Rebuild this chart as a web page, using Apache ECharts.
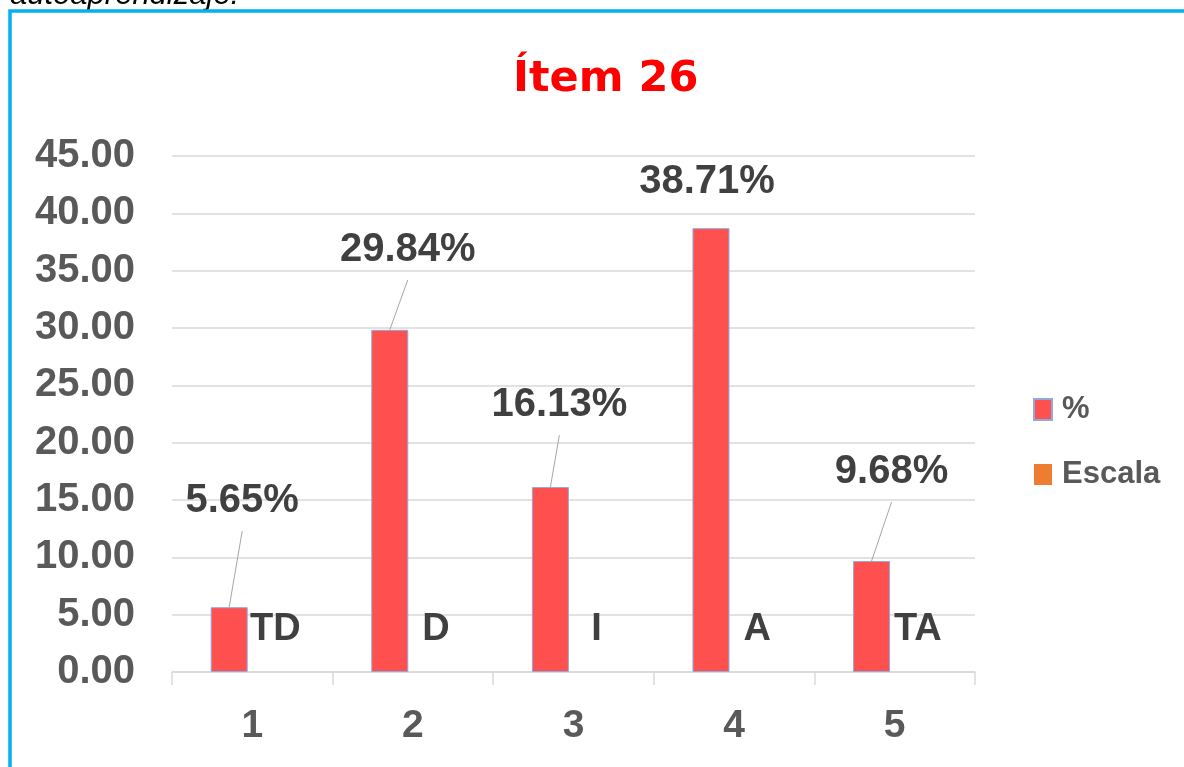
<!DOCTYPE html>
<html>
<head>
<meta charset="utf-8">
<script src="https://cdn.jsdelivr.net/npm/echarts@6/dist/echarts.min.js"></script>
<style>
  html, body { margin: 0; padding: 0; background: #fff; }
  #chart { width: 1184px; height: 767px; }
</style>
</head>
<body>
<div id="chart"></div>
<script>
// datos del gráfico
const categories = ['1', '2', '3', '4', '5'];
const pctValues = [5.65, 29.84, 16.13, 38.71, 9.68];
const escalaValues = [0, 0, 0, 0, 0];
const escalaLabels = ['TD', 'D', 'I', 'A', 'TA'];
const yTicks = [0, 45, 5]; // min, max, intervalo

// desplazamiento de las etiquetas (px) respecto al borde superior de la barra
const labelShift = [[13, -106], [18, -80], [9, -82], [-4, -46], [20, -89]];
const labelLineShown = [true, true, true, false, true];

const FONT = "'Liberation Sans', Arial, sans-serif";
const BAR_W = 37;
const BAR_SHIFT = -(BAR_W * 1.25) / 2;

const chart = echarts.init(document.getElementById('chart'));

const option = {
  backgroundColor: '#fff',
  animation: false,
  title: {
    text: 'Ítem 26',
    left: 508,
    top: 53,
    textStyle: { color: '#FF0000', fontSize: 43, fontWeight: 'bold', fontFamily: "'DejaVu Sans', sans-serif" }
  },
  legend: {
    data: ['%', 'Escala'],
    orient: 'vertical',
    left: 1028,
    top: 389,
    icon: 'rect',
    itemWidth: 18,
    itemHeight: 21,
    itemGap: 34,
    textStyle: { color: '#595959', fontSize: 31, fontWeight: 'bold', fontFamily: FONT, padding: [0, 0, 0, 5] }
  },
  grid: { left: 172, right: 209, top: 156, bottom: 95 },
  xAxis: {
    type: 'category',
    data: categories,
    axisLine: { lineStyle: { color: '#D9D9D9', width: 1.5 } },
    axisTick: { show: true, length: 13, lineStyle: { color: '#D9D9D9', width: 1.5 } },
    axisLabel: { color: '#595959', fontSize: 39, fontWeight: 'bold', fontFamily: FONT, margin: 35 }
  },
  yAxis: {
    type: 'value',
    min: yTicks[0],
    max: yTicks[1],
    interval: yTicks[2],
    axisLine: { show: false },
    axisTick: { show: false },
    splitLine: { lineStyle: { color: '#D9D9D9', width: 1.5 } },
    axisLabel: {
      color: '#595959', fontSize: 40, fontWeight: 'bold', fontFamily: FONT, margin: 37,
      formatter: v => v.toFixed(2)
    }
  },
  series: [
    {
      name: '%',
      type: 'bar',
      data: pctValues,
      barWidth: BAR_W,
      barGap: '25%',
      itemStyle: { color: '#FF5050', borderColor: '#8FAADC', borderWidth: 1 }
    },
    {
      name: 'Escala',
      type: 'bar',
      data: escalaValues,
      barWidth: BAR_W,
      itemStyle: { color: '#ED7D31' },
      label: {
        show: true,
        position: 'top',
        distance: 23,
        color: '#404040',
        fontSize: 38,
        fontWeight: 'bold',
        fontFamily: FONT,
        formatter: p => escalaLabels[p.dataIndex]
      }
    },
    {
      // etiquetas de porcentaje con línea guía
      name: 'etiquetas',
      type: 'custom',
      data: pctValues.map((v, i) => [i, v]),
      encode: { x: 0, y: 1 },
      z: 10,
      silent: true,
      renderItem: function (params, api) {
        const i = params.dataIndex;
        const top = api.coord([api.value(0), api.value(1)]);
        const bx = top[0] + BAR_SHIFT;
        const lx = bx + labelShift[i][0];
        const ly = top[1] + labelShift[i][1];
        const children = [{
          type: 'text',
          x: lx,
          y: ly,
          style: {
            text: api.value(1).toFixed(2) + '%',
            align: 'center',
            verticalAlign: 'middle',
            fill: '#404040',
            font: 'bold 40px ' + FONT
          }
        }];
        if (labelLineShown[i]) {
          children.push({
            type: 'line',
            shape: { x1: lx, y1: ly + 30, x2: bx, y2: top[1] },
            style: { stroke: '#A6A6A6', lineWidth: 1 }
          });
        }
        return { type: 'group', children: children };
      }
    }
  ],
  graphic: [
    {
      type: 'text',
      left: 10,
      top: -20,
      style: { text: 'autoaprendizaje.', font: 'italic 31px ' + FONT, fill: '#000' }
    },
    {
      type: 'rect',
      shape: { x: 10, y: 11, width: 1300, height: 900 },
      style: { fill: 'none', stroke: '#00B0F0', lineWidth: 3.5 },
      silent: true
    }
  ]
};

chart.setOption(option);
</script>
</body>
</html>
